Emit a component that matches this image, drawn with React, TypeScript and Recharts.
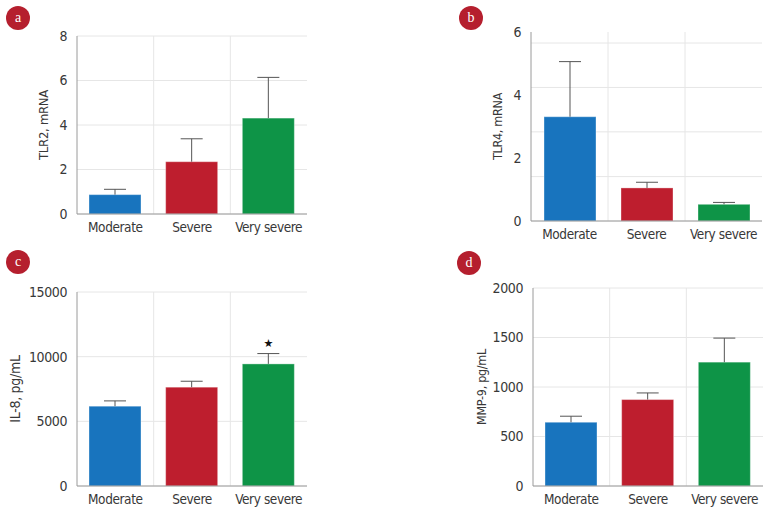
import React from 'react'
import { BarChart, Bar, XAxis, YAxis, CartesianGrid, Cell } from 'recharts'

const categories = ['Moderate', 'Severe', 'Very severe']

const tlr2Mean = [0.87, 2.35, 4.31]
const tlr2Sd = [0.24, 1.03, 1.83]
const tlr2Ticks = [0, 2, 4, 6, 8]

const tlr4Mean = [3.31, 1.05, 0.53]
const tlr4Sd = [1.75, 0.18, 0.06]
const tlr4Ticks = [0, 2, 4, 6]
const tlr4GridTicks = [0, 1.41, 2.83, 4.24, 5.65]

const il8Mean = [6170, 7640, 9440]
const il8Sd = [410, 460, 800]
const il8Marks = ['', '', '★']
const il8Ticks = [0, 5000, 10000, 15000]

const mmp9Mean = [644, 873, 1251]
const mmp9Sd = [61, 67, 243]
const mmp9Ticks = [0, 500, 1000, 1500, 2000]

const COLORS = ['#1874be', '#be1e2e', '#0e9447']
const FONT = "'Liberation Sans Narrow', 'DejaVu Sans Condensed', 'Roboto Condensed', sans-serif"
const TEXT = '#383838'
const AXIS = '#9a9a9a'
const GRID = '#e6e6e6'

const build = (mean: number[], sd: number[], marks?: string[]) =>
  categories.map((name, i) => ({ name, mean: mean[i], sd: sd[i], mark: marks ? marks[i] : '' }))

function BarWithError(props: any) {
  const { x, y, width, height, fill, payload } = props
  const cx = x + width / 2
  const perUnit = payload.mean ? height / payload.mean : 0
  const top = y - payload.sd * perUnit
  return (
    <g>
      <rect x={x} y={y} width={width} height={height} fill={fill} stroke="rgba(255,255,255,0.35)" />
      <line x1={cx} y1={y} x2={cx} y2={top} stroke="#555" />
      <line x1={cx - 11} y1={top} x2={cx + 11} y2={top} stroke="#555" />
      {payload.mark ? (
        <text x={cx} y={top - 7} textAnchor="middle" fontSize={11} fill="#111" fontFamily="DejaVu Sans">
          {payload.mark}
        </text>
      ) : null}
    </g>
  )
}

function Badge({ letter, cx, cy }: { letter: string; cx: number; cy: number }) {
  return (
    <div
      style={{
        position: 'absolute',
        left: cx - 12,
        top: cy - 12,
        width: 24,
        height: 24,
        borderRadius: '50%',
        background: '#b51f2e',
        color: '#fff',
        fontFamily: "'Liberation Serif', 'DejaVu Serif', serif",
        fontSize: 14,
        lineHeight: '23px',
        textAlign: 'center',
      }}
    >
      {letter}
    </div>
  )
}

interface PanelProps {
  data: Array<{ name: string; mean: number; sd: number; mark: string }>
  left: number
  top: number
  margin: { top: number; right: number; bottom: number; left: number }
  axisWidth: number
  ticks: number[]
  title: string
  titleOffset: number
  titleSize: number
  gridTicks?: number[]
}

function Panel({ data, left, top, margin, axisWidth, ticks, title, titleOffset, titleSize, gridTicks }: PanelProps) {
  const max = ticks[ticks.length - 1]
  return (
    <BarChart
      width={387}
      height={257}
      data={data}
      margin={margin}
      style={{ position: 'absolute', left, top }}
    >
      <CartesianGrid
        stroke={GRID}
        verticalCoordinatesGenerator={({ offset }: any) => [
          offset.left + offset.width / 3,
          offset.left + (2 * offset.width) / 3,
        ]}
        horizontalCoordinatesGenerator={
          gridTicks
            ? ({ offset }: any) => gridTicks.map((v) => offset.top + offset.height * (1 - v / max))
            : undefined
        }
      />
      <XAxis
        dataKey="name"
        interval={0}
        height={25}
        tickLine={false}
        axisLine={{ stroke: AXIS }}
        tick={{ fill: TEXT, fontSize: 13.5, fontFamily: FONT, letterSpacing: -0.4 }}
      />
      <YAxis
        width={axisWidth}
        domain={[ticks[0], max]}
        ticks={ticks}
        tickLine={false}
        tickMargin={4}
        axisLine={{ stroke: AXIS }}
        tick={{ fill: TEXT, fontSize: 14, fontFamily: FONT, letterSpacing: -0.4 }}
        label={{
          value: title,
          angle: -90,
          position: 'insideLeft',
          offset: titleOffset,
          style: {
            textAnchor: 'middle',
            fill: TEXT,
            fontSize: titleSize,
            fontFamily: FONT,
            letterSpacing: -0.3,
          },
        }}
      />
      <Bar dataKey="mean" barSize={52} isAnimationActive={false} shape={BarWithError}>
        {data.map((entry, index) => (
          <Cell key={`cell-${index}`} fill={COLORS[index % COLORS.length]} />
        ))}
      </Bar>
    </BarChart>
  )
}

export default function App() {
  return (
    <div style={{ position: 'absolute', left: 0, top: 0, width: 774, height: 514, background: '#fff' }}>
      <Panel
        data={build(tlr2Mean, tlr2Sd)}
        left={0}
        top={0}
        margin={{ top: 36, right: 80, bottom: 18, left: 0 }}
        axisWidth={77}
        ticks={tlr2Ticks}
        title="TLR2, mRNA"
        titleOffset={43}
        titleSize={13}
      />
      <Panel
        data={build(tlr4Mean, tlr4Sd)}
        left={387}
        top={0}
        margin={{ top: 32, right: 12, bottom: 11, left: 0 }}
        axisWidth={144}
        ticks={tlr4Ticks}
        gridTicks={tlr4GridTicks}
        title="TLR4, mRNA"
        titleOffset={111}
        titleSize={12.5}
      />
      <Panel
        data={build(il8Mean, il8Sd, il8Marks)}
        left={0}
        top={257}
        margin={{ top: 35, right: 80, bottom: 3, left: 0 }}
        axisWidth={77}
        ticks={il8Ticks}
        title="IL-8, pg/mL"
        titleOffset={15}
        titleSize={14}
      />
      <Panel
        data={build(mmp9Mean, mmp9Sd)}
        left={387}
        top={257}
        margin={{ top: 31, right: 11, bottom: 3, left: 0 }}
        axisWidth={146}
        ticks={mmp9Ticks}
        title="MMP-9, pg/mL"
        titleOffset={95}
        titleSize={12.5}
      />
      <Badge letter="a" cx={18} cy={18} />
      <Badge letter="b" cx={471} cy={18} />
      <Badge letter="c" cx={18} cy={262} />
      <Badge letter="d" cx={469} cy={263} />
    </div>
  )
}
